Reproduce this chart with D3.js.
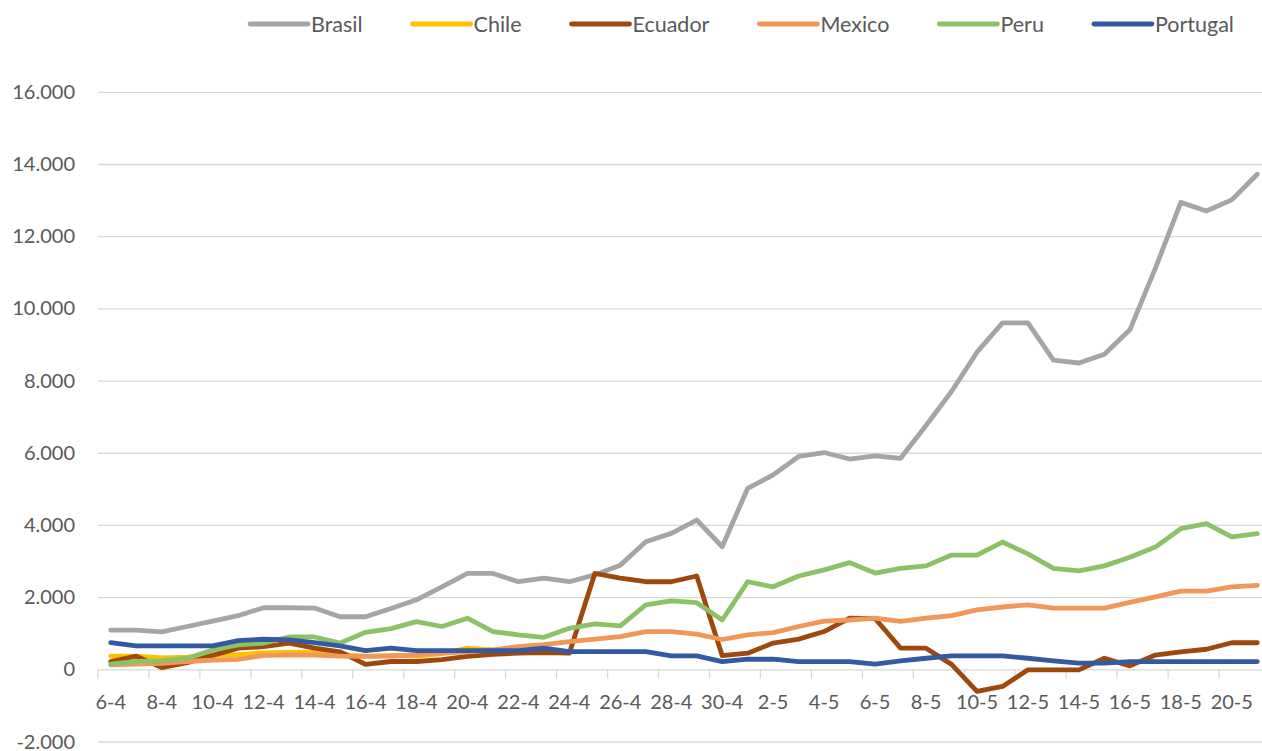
<!DOCTYPE html>
<html lang="en">
<head>
  <meta charset="UTF-8">
  <script src="https://d3js.org/d3.v7.min.js"></script>
  <title>Brasil, Chile, Ecuador, Mexico, Peru, Portugal</title>
  <style>
    body { margin: 0; background: #fff; }
    svg { display: block; font-family: Lato, "Open Sans", sans-serif; }
    .grid line { stroke: #d9d9d9; stroke-width: 1.3px; }
    .lbl { fill: #595959; font-size: 20px; }
    .legend text { fill: #595959; font-size: 21.5px; }
    .series path { fill: none; stroke-width: 4.8px; stroke-linejoin: round; stroke-linecap: round; }
  </style>
</head>
<body>
  <svg></svg>
  <script>
    const days = ['6-4','7-4','8-4','9-4','10-4','11-4','12-4','13-4','14-4','15-4','16-4','17-4','18-4','19-4',
      '20-4','21-4','22-4','23-4','24-4','25-4','26-4','27-4','28-4','29-4','30-4',
      '1-5','2-5','3-5','4-5','5-5','6-5','7-5','8-5','9-5','10-5','11-5','12-5','13-5','14-5','15-5',
      '16-5','17-5','18-5','19-5','20-5','21-5']
    const yTicks = [-2000, 0, 2000, 4000, 6000, 8000, 10000, 12000, 14000, 16000]

    const names = ['Brasil', 'Chile', 'Ecuador', 'Mexico', 'Peru', 'Portugal']
    const colors = ['#a5a5a5', '#ffc000', '#9e480e', '#f1975a', '#8cc168', '#335aa0']

    const brasil = [1100,1100,1050,1200,1350,1500,1720,1720,1710,1470,1470,1700,1940,2300,2670,2670,2440,2540,2440,2630,
      2900,3550,3780,4150,3410,5030,5400,5910,6020,5840,5930,5860,6770,7710,8800,9610,9610,8580,8500,8740,
      9420,11120,12950,12710,13020,13730]
    const chile = [380,380,330,350,400,420,470,490,480,420,380,400,380,450,600,550,
      null,null,null,null,null,null,null,null,null,null,null,null,null,null,null,null,null,null,null,null,
      null,null,null,null,null,null,null,null,null,null]
    const ecuador = [230,380,60,200,400,600,640,740,600,500,150,230,230,280,370,430,460,480,460,2670,
      2540,2440,2440,2600,390,460,740,850,1060,1430,1420,600,600,150,-600,-460,0,0,0,320,
      110,410,500,570,750,750]
    const mexico = [140,160,180,230,270,290,400,410,410,380,370,380,410,460,500,550,640,700,780,850,
      920,1060,1060,990,840,970,1030,1200,1350,1380,1430,1340,1430,1500,1660,1740,1800,1710,1710,1710,
      1870,2020,2180,2180,2300,2340]
    const peru = [160,230,250,320,550,690,740,910,910,740,1040,1140,1335,1200,1430,1060,970,900,1150,1270,
      1220,1800,1910,1860,1380,2440,2300,2600,2770,2970,2680,2810,2880,3180,3180,3540,3210,2810,2740,2880,
      3120,3400,3910,4050,3680,3770]
    const portugal = [754,662,662,662,662,809,847,828,754,662,532,600,532,532,532,532,532,598,504,504,
      504,504,385,385,227,293,293,227,227,227,155,246,320,385,385,385,320,246,183,183,
      227,227,227,227,227,227]

    const seriesValues = [brasil, chile, ecuador, mexico, peru, portugal]

    const WIDTH = 1262
    const HEIGHT = 751

    const svg = d3.select('svg')
      .attr('width', WIDTH)
      .attr('height', HEIGHT)

    const x = d3.scaleBand().domain(days).range([98, 1270])
    const y = d3.scaleLinear().domain([-2000, 16000]).range([742, 92.3])
    const cx = (d) => x(d) + x.bandwidth() / 2

    const fmt = d3.formatLocale({ decimal: ',', thousands: '.', grouping: [3], currency: ['', ''], minus: '-' }).format(',')

    // horizontal gridlines
    svg.append('g')
      .attr('class', 'grid')
      .selectAll('line')
      .data(yTicks)
      .enter().append('line')
      .attr('x1', 98)
      .attr('x2', 1270)
      .attr('y1', (d) => y(d))
      .attr('y2', (d) => y(d))

    // y labels
    svg.append('g')
      .selectAll('text')
      .data(yTicks)
      .enter().append('text')
      .attr('class', 'lbl')
      .attr('x', 75)
      .attr('y', (d) => y(d))
      .attr('dy', '0.33em')
      .attr('text-anchor', 'end')
      .text((d) => fmt(d))

    // category axis: tick marks between categories, label every 2 days
    const shown = days.filter((d, i) => i % 2 === 0)
    svg.append('g')
      .attr('class', 'grid')
      .selectAll('line')
      .data(shown)
      .enter().append('line')
      .attr('x1', (d) => x(d))
      .attr('x2', (d) => x(d))
      .attr('y1', y(0))
      .attr('y2', y(0) + 9)

    svg.append('g')
      .selectAll('text')
      .data(shown)
      .enter().append('text')
      .attr('class', 'lbl')
      .attr('x', (d) => cx(d))
      .attr('y', 702)
      .attr('dy', '0.35em')
      .attr('text-anchor', 'middle')
      .text((d) => d)

    // series
    const line = d3.line()
      .defined((v) => v !== null)
      .x((v, i) => cx(days[i]))
      .y((v) => y(v))

    svg.append('g')
      .attr('class', 'series')
      .selectAll('path')
      .data(seriesValues)
      .enter().append('path')
      .attr('stroke', (d, i) => colors[i])
      .attr('d', (d) => line(d))

    // legend
    const legend = svg.append('g').attr('class', 'legend')
    let lx = 250
    names.forEach((name, i) => {
      legend.append('line')
        .attr('x1', lx).attr('x2', lx + 58)
        .attr('y1', 24).attr('y2', 24)
        .attr('stroke', colors[i])
        .attr('stroke-width', 4.8)
        .attr('stroke-linecap', 'round')
      const t = legend.append('text')
        .attr('x', lx + 61)
        .attr('y', 24)
        .attr('dy', '0.35em')
        .text(name)
      lx += 61 + t.node().getComputedTextLength() + 50
    })
  </script>
</body>
</html>
